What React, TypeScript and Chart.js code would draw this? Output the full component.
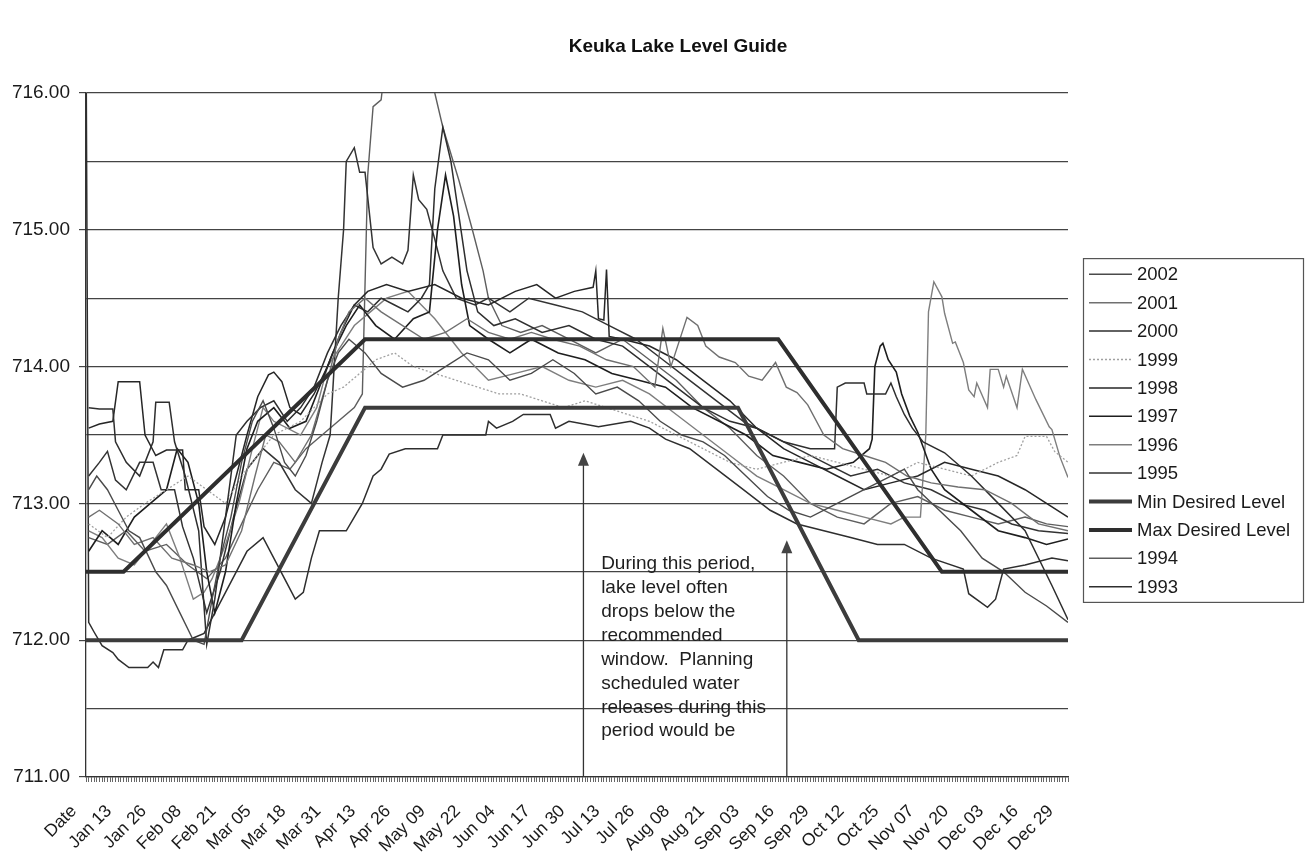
import React, { useEffect, useRef } from 'react';
import { Chart, registerables } from 'chart.js';

Chart.register(...registerables);

const TITLE = 'Keuka Lake Level Guide';
const FONT = '"Liberation Sans", Arial, sans-serif';

// x axis: day index (0 = "Date" header row, 1 = Jan 01 ... 366 = Dec 31), label every 13 days
const TICK_LABELS = ['Date', 'Jan 13', 'Jan 26', 'Feb 08', 'Feb 21', 'Mar 05', 'Mar 18', 'Mar 31', 'Apr 13', 'Apr 26', 'May 09', 'May 22', 'Jun 04', 'Jun 17', 'Jun 30', 'Jul 13', 'Jul 26', 'Aug 08', 'Aug 21', 'Sep 03', 'Sep 16', 'Sep 29', 'Oct 12', 'Oct 25', 'Nov 07', 'Nov 20', 'Dec 03', 'Dec 16', 'Dec 29'];
const TICK_EVERY = 13;
const DAY_MAX = 366;
const Y_MIN = 711;
const Y_MAX = 716;
const Y_STEP = 0.5;

// [day, lake level (ft)]
const Y2002: [number, number][] = [[1,713.1],[4,713.2],[8,713.1],[12,712.95],[16,712.8],[20,712.75],[26,712.5],[30,712.4],[35,712.2],[40,712.0],[44,711.97],[47,712.3],[50,712.6],[54,712.9],[58,713.3],[62,713.6],[66,713.75],[70,713.55],[74,713.3],[78,713.2],[82,713.35],[86,713.6],[90,713.9],[94,714.1],[98,714.2],[104,714.1],[110,713.95],[118,713.85],[126,713.9],[134,714.0],[142,714.1],[150,714.05],[158,713.9],[166,713.95],[174,714.05],[182,713.95],[190,713.8],[198,713.85],[206,713.75],[214,713.6],[222,713.5],[230,713.45],[238,713.35],[246,713.2],[254,713.05],[262,712.95],[270,712.9],[280,713.0],[290,713.1],[300,713.2],[305,713.25],[310,713.1],[318,712.95],[326,712.8],[334,712.6],[342,712.5],[350,712.35],[358,712.25],[366,712.13]];
const Y2001: [number, number][] = [[1,712.9],[5,712.95],[12,712.85],[18,712.7],[25,712.75],[32,712.6],[40,712.55],[46,712.5],[52,712.55],[58,712.8],[63,713.2],[67,713.5],[72,713.45],[78,713.3],[84,713.5],[90,713.9],[94,714.2],[98,714.4],[104,714.5],[110,714.4],[118,714.3],[126,714.2],[134,714.25],[142,714.35],[150,714.25],[158,714.2],[166,714.25],[174,714.2],[184,714.15],[194,714.05],[204,714.0],[212,713.85],[215,714.28],[218,714.0],[224,714.36],[228,714.3],[231,714.15],[236,714.07],[242,714.03],[247,713.93],[252,713.9],[257,714.03],[261,713.85],[265,713.81],[269,713.72],[275,713.5],[282,713.4],[290,713.35],[298,713.3],[306,713.2],[315,713.15],[325,713.12],[335,713.1],[345,713.0],[355,712.85],[366,712.8]];
const Y2000: [number, number][] = [[1,713.7],[5,713.69],[10,713.69],[11,713.45],[15,713.3],[20,713.2],[25,713.45],[26,713.74],[31,713.74],[33,713.45],[37,713.2],[42,712.8],[45,711.97],[48,712.3],[52,712.9],[56,713.5],[60,713.6],[65,713.7],[70,713.75],[75,713.6],[80,713.7],[85,713.85],[90,714.1],[95,714.3],[100,714.45],[105,714.4],[110,714.5],[115,714.45],[120,714.4],[125,714.5],[128,714.6],[130,715.3],[133,715.75],[136,715.5],[139,715.1],[142,714.7],[146,714.4],[152,714.3],[160,714.35],[170,714.25],[180,714.3],[190,714.2],[200,714.15],[210,714.0],[220,713.85],[230,713.7],[240,713.6],[250,713.55],[260,713.45],[270,713.4],[279,713.4],[280,713.85],[283,713.88],[290,713.88],[291,713.8],[298,713.8],[300,713.88],[302,713.78],[305,713.65],[308,713.55],[312,713.45],[320,713.37],[330,713.2],[340,713.0],[350,712.8],[360,712.4],[366,712.15]];
const Y1999: [number, number][] = [[1,712.85],[8,712.75],[15,712.9],[22,713.0],[30,713.1],[38,713.2],[45,713.1],[52,713.0],[58,713.2],[64,713.35],[70,713.5],[75,713.55],[80,713.6],[85,713.7],[90,713.8],[96,713.85],[102,713.95],[108,714.05],[115,714.1],[122,714.0],[130,713.95],[138,713.9],[146,713.85],[154,713.8],[162,713.8],[170,713.75],[178,713.7],[186,713.75],[194,713.7],[202,713.65],[210,713.6],[220,713.5],[230,713.4],[240,713.3],[250,713.25],[260,713.3],[270,713.35],[280,713.3],[290,713.25],[300,713.2],[310,713.3],[320,713.25],[330,713.2],[340,713.3],[347,713.35],[350,713.49],[358,713.49],[361,713.38],[366,713.3]];
const Y1998: [number, number][] = [[1,713.55],[5,713.58],[10,713.6],[12,713.89],[20,713.89],[22,713.5],[26,713.35],[30,713.39],[36,713.39],[37,713.1],[42,713.1],[44,712.83],[48,712.7],[52,712.9],[56,713.2],[60,713.5],[64,713.78],[68,713.94],[70,713.96],[73,713.89],[76,713.7],[80,713.65],[85,713.8],[90,714.0],[95,714.25],[100,714.45],[105,714.55],[112,714.6],[120,714.55],[130,714.6],[140,714.5],[150,714.45],[160,714.55],[168,714.6],[175,714.5],[182,714.55],[189,714.58],[190,714.7],[191,714.35],[193,714.34],[194,714.71],[195,714.22],[200,714.2],[210,714.15],[220,714.05],[230,713.9],[240,713.75],[250,713.55],[260,713.4],[270,713.3],[280,713.2],[290,713.1],[300,713.15],[310,713.2],[320,713.3],[330,713.25],[340,713.2],[350,713.1],[358,713.0],[366,712.9]];
const Y1997: [number, number][] = [[1,712.65],[6,712.8],[12,712.7],[18,712.9],[24,713.0],[30,713.1],[34,713.4],[38,713.3],[42,713.0],[45,712.5],[48,712.2],[52,712.5],[56,713.0],[60,713.4],[64,713.6],[70,713.7],[76,713.55],[82,713.6],[88,713.9],[92,714.1],[97,714.3],[102,714.45],[108,714.3],[115,714.2],[122,714.35],[128,714.4],[131,715.0],[134,715.4],[137,715.1],[140,714.6],[143,714.3],[150,714.2],[158,714.1],[166,714.2],[176,714.1],[186,714.05],[196,713.95],[206,713.9],[216,713.85],[226,713.7],[236,713.6],[246,713.5],[256,713.35],[266,713.3],[276,713.25],[286,713.3],[292,713.4],[293,713.47],[294,714.0],[296,714.15],[297,714.17],[299,714.05],[302,713.96],[304,713.8],[307,713.64],[310,713.52],[315,713.25],[320,713.1],[330,712.95],[340,712.8],[350,712.75],[358,712.7],[366,712.74]];
const Y1996: [number, number][] = [[1,712.8],[6,712.75],[12,712.6],[18,712.55],[24,712.7],[30,712.85],[35,712.6],[40,712.3],[44,712.35],[47,712.45],[52,712.7],[57,713.0],[62,713.4],[66,713.7],[70,713.6],[75,713.55],[80,713.5],[86,713.7],[90,714.0],[95,714.15],[100,714.3],[106,714.4],[112,714.5],[120,714.55],[130,714.35],[140,714.1],[150,713.9],[160,713.95],[170,714.0],[180,713.9],[190,713.85],[200,713.9],[210,713.8],[220,713.65],[230,713.5],[240,713.35],[250,713.2],[260,713.1],[270,713.0],[280,712.95],[290,712.9],[300,712.85],[305,712.9],[311,712.9],[313,713.5],[314,714.4],[316,714.62],[319,714.51],[320,714.39],[323,714.17],[324,714.18],[327,714.03],[329,713.83],[331,713.78],[332,713.88],[336,713.7],[337,713.98],[340,713.98],[342,713.85],[343,713.93],[347,713.7],[349,713.98],[354,713.76],[359,713.56],[360,713.54],[363,713.34],[366,713.19]];
const Y1995: [number, number][] = [[1,713.2],[5,713.3],[8,713.38],[11,713.17],[15,713.1],[20,713.3],[25,713.3],[28,713.1],[33,713.1],[36,712.83],[40,712.6],[45,712.2],[50,712.5],[55,712.9],[60,713.25],[66,713.4],[72,713.3],[78,713.1],[84,713.0],[88,713.3],[91,713.5],[94,714.5],[96,715.0],[97,715.5],[100,715.6],[102,715.42],[104,715.42],[107,714.87],[110,714.75],[114,714.8],[118,714.75],[120,714.85],[122,715.4],[124,715.22],[127,715.15],[130,714.93],[133,714.7],[138,714.5],[145,714.45],[150,714.5],[158,714.4],[165,714.5],[175,714.45],[185,714.4],[195,714.3],[205,714.2],[215,714.05],[225,713.9],[235,713.75],[245,713.6],[255,713.5],[265,713.4],[275,713.3],[285,713.2],[295,713.25],[305,713.15],[315,713.1],[325,713.0],[335,712.95],[345,712.85],[355,712.8],[366,712.78]];
const MIN_DESIRED: [number, number][] = [[0,712.0],[58,712.0],[104,713.7],[243,713.7],[288,712.0],[366,712.0]];
const MAX_DESIRED: [number, number][] = [[0,712.5],[14,712.5],[104,714.2],[258,714.2],[319,712.5],[366,712.5]];
const Y1994: [number, number][] = [[1,712.75],[8,712.7],[15,712.8],[22,712.65],[30,712.7],[38,712.55],[45,712.45],[52,712.6],[58,712.85],[64,713.1],[70,713.3],[76,713.25],[82,713.4],[88,713.5],[94,713.6],[100,713.7],[103,713.8],[105,715.4],[107,715.9],[110,715.95],[112,716.3],[128,716.3],[130,716.0],[133,715.75],[139,715.36],[144,715.0],[148,714.7],[150,714.5],[155,714.3],[162,714.25],[170,714.3],[180,714.2],[190,714.1],[200,714.2],[210,714.05],[220,713.9],[230,713.7],[240,713.55],[250,713.35],[260,713.2],[270,713.0],[280,712.9],[290,712.85],[300,713.0],[310,713.05],[320,712.95],[330,712.9],[340,712.85],[350,712.9],[358,712.85],[366,712.83]];
const Y1993: [number, number][] = [[0,716.5],[1,712.13],[3,712.06],[6,711.96],[10,711.91],[12,711.86],[16,711.8],[23,711.8],[25,711.84],[27,711.8],[29,711.93],[36,711.93],[38,712.0],[44,712.05],[48,712.2],[52,712.35],[56,712.5],[60,712.65],[66,712.75],[70,712.6],[74,712.45],[78,712.3],[81,712.35],[84,712.6],[87,712.8],[97,712.8],[100,712.9],[103,713.0],[107,713.2],[110,713.25],[113,713.36],[119,713.4],[131,713.4],[133,713.5],[149,713.5],[150,713.6],[153,713.55],[159,713.6],[163,713.65],[173,713.65],[175,713.55],[180,713.6],[191,713.56],[203,713.6],[210,713.55],[216,713.47],[225,713.4],[235,713.25],[245,713.1],[255,712.95],[265,712.85],[275,712.8],[285,712.75],[295,712.7],[305,712.7],[315,712.6],[327,712.52],[329,712.34],[336,712.24],[339,712.3],[342,712.52],[350,712.55],[360,712.6],[366,712.58]];

const SERIES_NAMES = ['2002', '2001', '2000', '1999', '1998', '1997', '1996', '1995', 'Min Desired Level', 'Max Desired Level', '1994', '1993'];
const SERIES_DATA = [Y2002, Y2001, Y2000, Y1999, Y1998, Y1997, Y1996, Y1995, MIN_DESIRED, MAX_DESIRED, Y1994, Y1993];
const SERIES_COLORS = ['#4a4a4a', '#707070', '#2e2e2e', '#a0a0a0', '#262626', '#1e1e1e', '#7e7e7e', '#333333', '#3c3c3c', '#2e2e2e', '#5e5e5e', '#2e2e2e'];
const SERIES_WIDTHS = [1.4, 1.4, 1.5, 1.3, 1.5, 1.6, 1.4, 1.5, 4, 4, 1.4, 1.5];
const SERIES_DASH = [[], [], [], [2, 2], [], [], [], [], [], [], [], []];

const NOTE_LINES = ['During this period,', 'lake level often', 'drops below the', 'recommended', 'window.  Planning', 'scheduled water', 'releases during this', 'period would be'];
const NOTE_DAY = 192;
const NOTE_TOP = 712.66;
const ARROWS: [number, number][] = [[185.4, 713.37], [261.2, 712.73]]; // [day, tip level]

const annotationPlugin = {
  id: 'noteArrows',
  afterDatasetsDraw(chart: any) {
    const { ctx, scales } = chart;
    const xs = scales.x, ys = scales.y;
    ctx.save();
    ctx.strokeStyle = '#333';
    ctx.fillStyle = '#444';
    ctx.lineWidth = 1.3;
    ARROWS.forEach(([d, v]) => {
      const x = xs.getPixelForValue(d);
      const yTip = ys.getPixelForValue(v);
      const yBot = ys.getPixelForValue(Y_MIN);
      ctx.beginPath();
      ctx.moveTo(x, yBot);
      ctx.lineTo(x, yTip + 10);
      ctx.stroke();
      ctx.beginPath();
      ctx.moveTo(x, yTip);
      ctx.lineTo(x - 5.5, yTip + 13);
      ctx.lineTo(x + 5.5, yTip + 13);
      ctx.closePath();
      ctx.fill();
    });
    ctx.fillStyle = '#1e1e1e';
    ctx.font = `19px ${FONT}`;
    ctx.textAlign = 'left';
    ctx.textBaseline = 'middle';
    const nx = xs.getPixelForValue(NOTE_DAY);
    const ny = ys.getPixelForValue(NOTE_TOP);
    NOTE_LINES.forEach((t, i) => ctx.fillText(t, nx, ny + 14 + i * 23.9));
    ctx.restore();
  },
};

const frameTextPlugin = {
  id: 'frameText',
  afterDraw(chart: any) {
    const { ctx, chartArea } = chart;
    ctx.save();
    // title
    ctx.fillStyle = '#111';
    ctx.font = `bold 19px ${FONT}`;
    ctx.textAlign = 'center';
    ctx.textBaseline = 'middle';
    ctx.fillText(TITLE, 678, 47);
    // legend
    const left = chartArea.right + 15;
    const width = 220;
    const rowH = 28.4;
    const n = chart.data.datasets.length;
    const midY = 430;
    const boxH = rowH * n + 3;
    const top = midY - boxH / 2;
    ctx.strokeStyle = '#555';
    ctx.lineWidth = 1.2;
    ctx.strokeRect(left + 0.5, top + 0.5, width, boxH);
    ctx.font = `18.5px ${FONT}`;
    ctx.textAlign = 'left';
    chart.data.datasets.forEach((ds: any, i: number) => {
      const y = top + rowH * (i + 0.5) + 2;
      ctx.strokeStyle = ds.borderColor;
      ctx.lineWidth = ds.borderWidth;
      ctx.setLineDash(ds.borderDash || []);
      ctx.beginPath();
      ctx.moveTo(left + 6, y);
      ctx.lineTo(left + 49, y);
      ctx.stroke();
      ctx.setLineDash([]);
      ctx.fillStyle = '#1a1a1a';
      ctx.fillText(ds.label, left + 54, y + 1);
    });
    ctx.restore();
  },
};

export default function App() {
  const ref = useRef<HTMLCanvasElement>(null);
  useEffect(() => {
    if (!ref.current) return;
    const datasets = SERIES_NAMES.map((name, i) => ({
      label: name,
      data: SERIES_DATA[i].map(([x, y]) => ({ x, y })),
      borderColor: SERIES_COLORS[i],
      backgroundColor: SERIES_COLORS[i],
      borderWidth: SERIES_WIDTHS[i],
      borderDash: SERIES_DASH[i],
      pointRadius: 0,
      tension: 0,
      fill: false,
      order: i === 8 || i === 9 ? -1 : i,
    }));
    const chart = new Chart(ref.current, {
      type: 'line',
      data: { datasets },
      options: {
        animation: false,
        responsive: false,
        devicePixelRatio: 1,
        parsing: false,
        normalized: true,
        layout: { padding: { top: 93, right: 242, left: 0, bottom: 0 } },
        plugins: { legend: { display: false }, tooltip: { enabled: false }, title: { display: false } },
        scales: {
          x: {
            type: 'linear',
            min: 0,
            max: DAY_MAX,
            afterFit: (s: any) => { s.height = 75; },
            border: { display: true, color: '#333', width: 1.3 },
            grid: { drawOnChartArea: false, drawTicks: true, tickLength: 5, color: '#555', lineWidth: 0.9 },
            ticks: {
              stepSize: 1,
              autoSkip: false,
              minRotation: 45,
              maxRotation: 45,
              padding: 19,
              labelOffset: -12,
              color: '#1a1a1a',
              font: { family: FONT, size: 17.5 },
              callback: (v: any) => (v % TICK_EVERY === 0 ? TICK_LABELS[v / TICK_EVERY] : ''),
            },
          },
          y: {
            min: Y_MIN,
            max: Y_MAX,
            afterFit: (s: any) => { s.width = 86; },
            border: { display: true, color: '#333', width: 1.3 },
            grid: {
              color: '#444',
              lineWidth: 1.2,
              tickLength: 7,
              tickColor: (c: any) => (c.tick && Number.isInteger(c.tick.value) ? '#444' : 'rgba(0,0,0,0)'),
            },
            ticks: {
              stepSize: Y_STEP,
              autoSkip: false,
              padding: 9,
              color: '#1a1a1a',
              font: { family: FONT, size: 19 },
              callback: (v: any) => (Number.isInteger(v) ? Number(v).toFixed(2) : ''),
            },
          },
        },
      },
      plugins: [annotationPlugin, frameTextPlugin],
    });
    return () => chart.destroy();
  }, []);
  return (
    <div style={{ position: 'fixed', left: 0, top: 0, width: 1310, height: 852, background: '#fff' }}>
      <canvas ref={ref} width={1310} height={852} style={{ display: 'block', width: 1310, height: 852 }} />
    </div>
  );
}
